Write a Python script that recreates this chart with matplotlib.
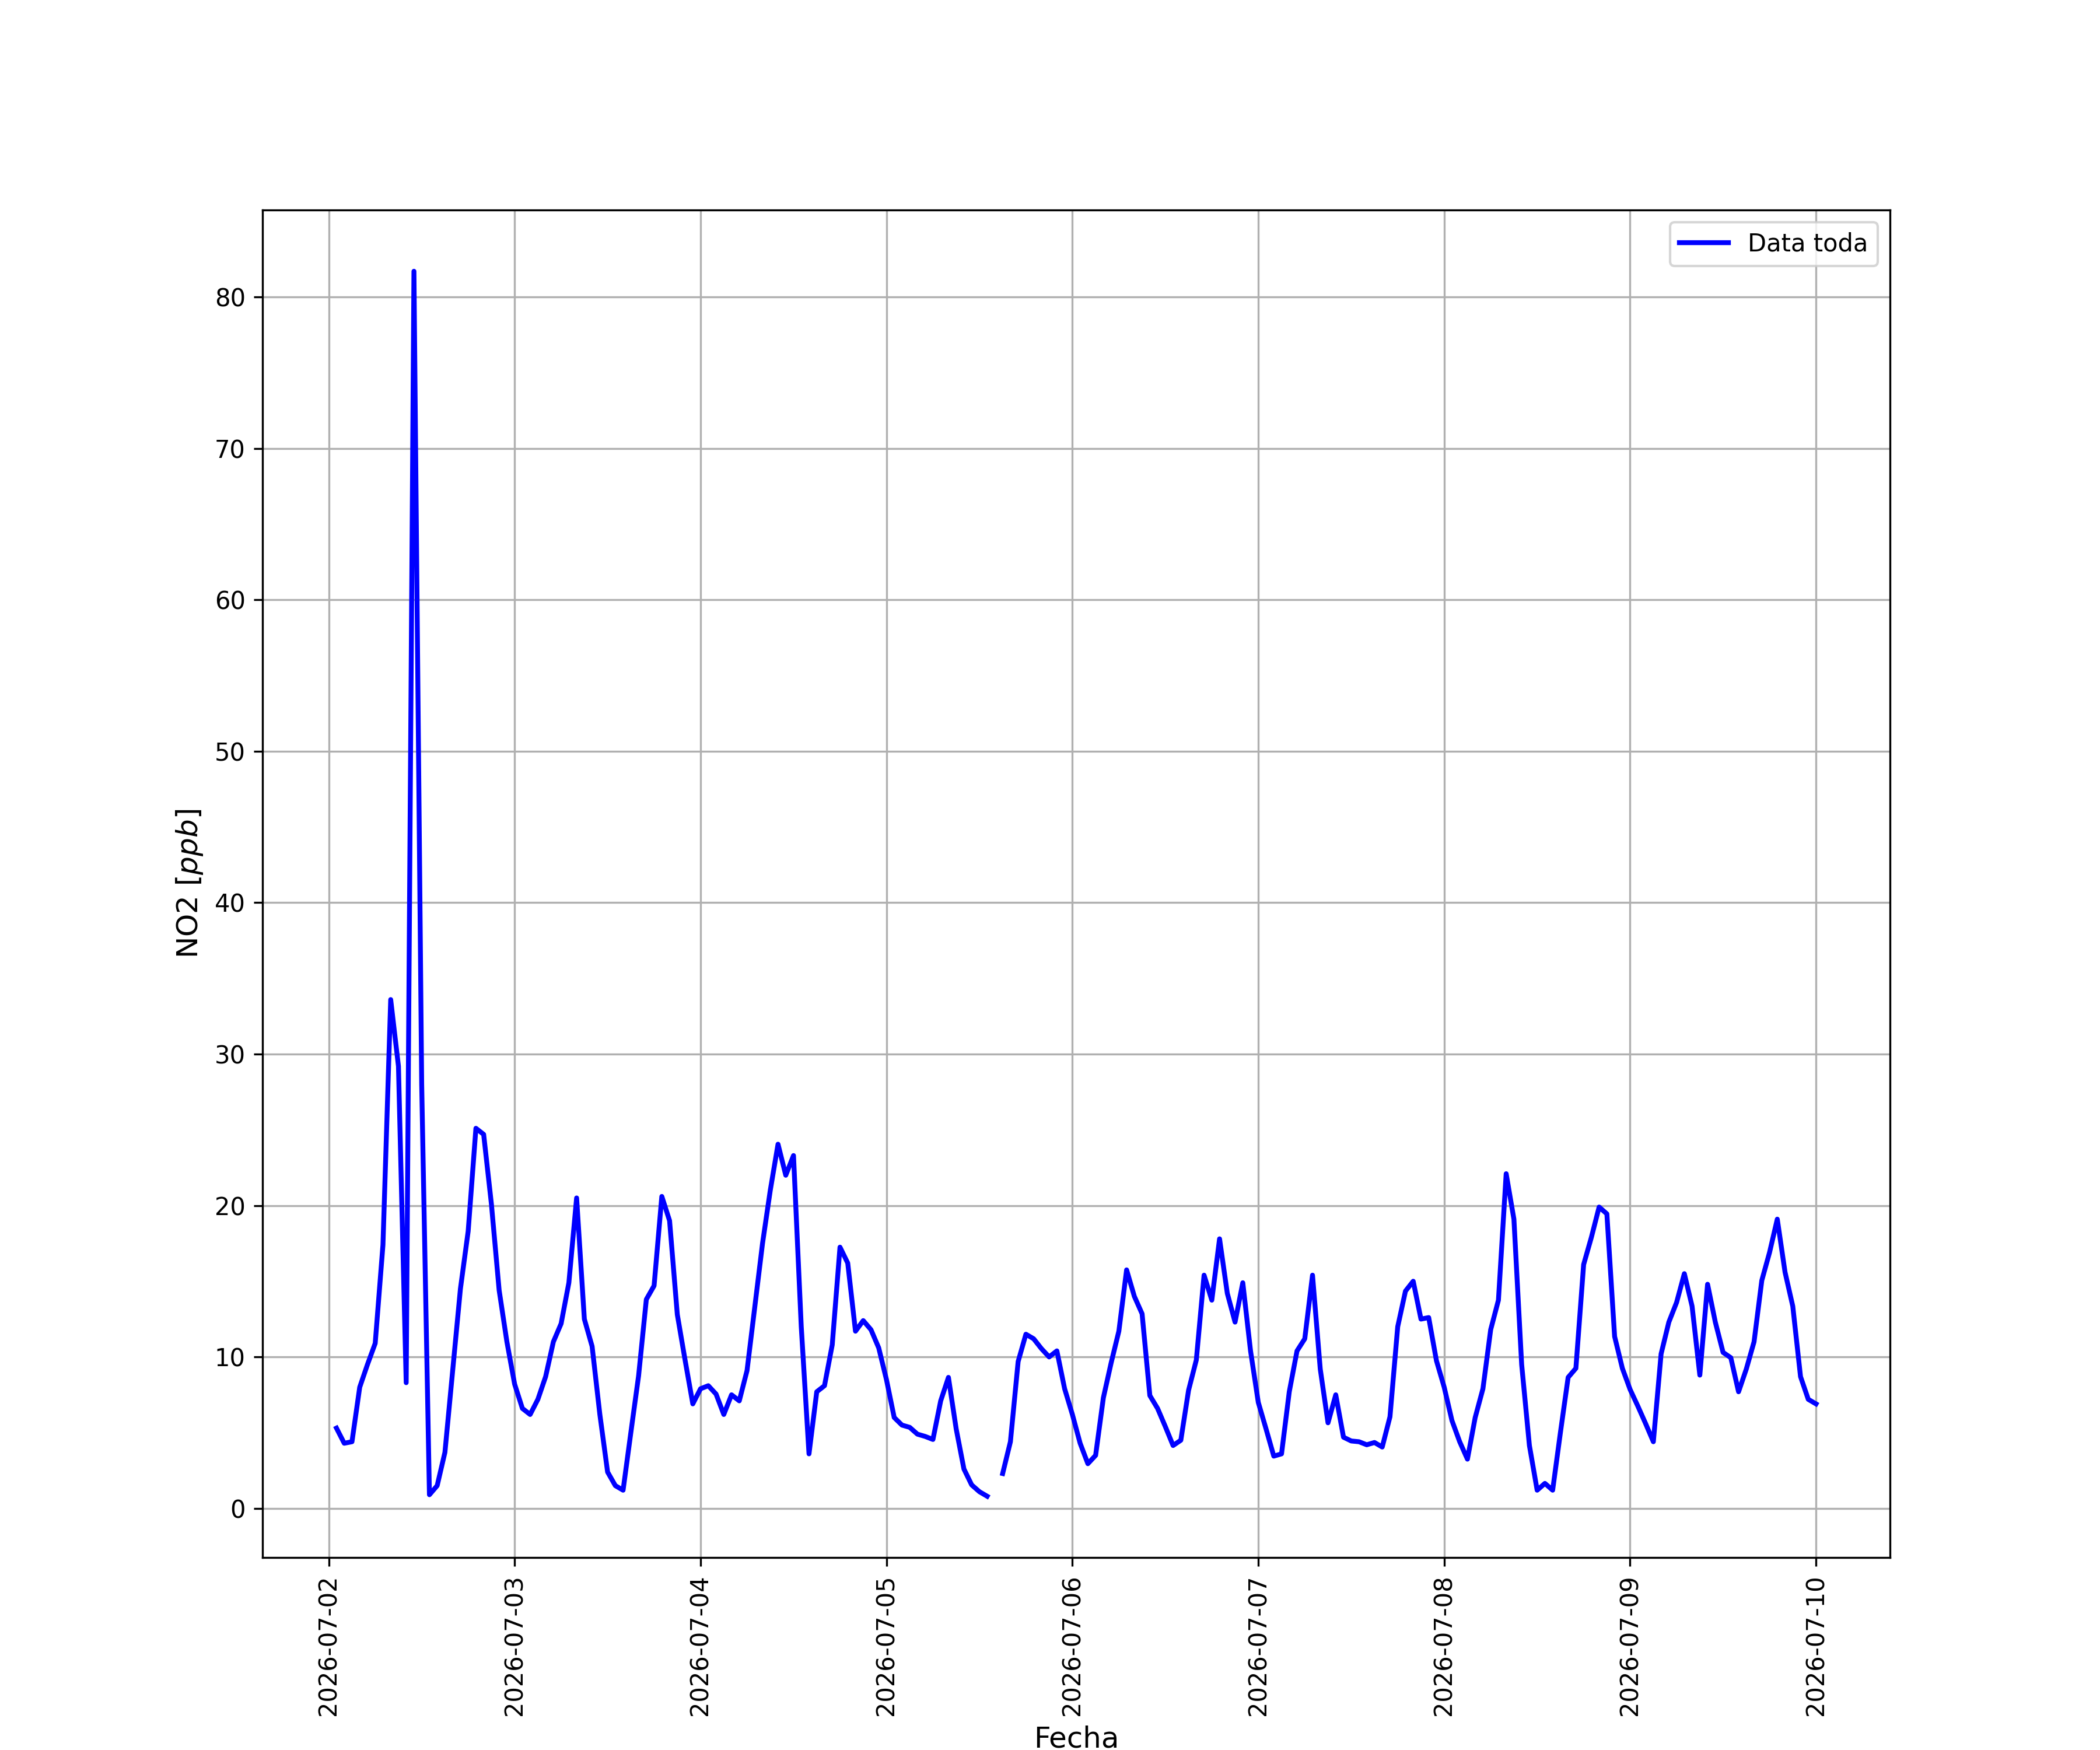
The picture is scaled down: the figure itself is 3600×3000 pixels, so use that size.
import numpy as np
import pandas as pd
import matplotlib
matplotlib.use("Agg")
import matplotlib.pyplot as plt
import matplotlib.dates as mdates

# hourly NO2 readings [ppb], first reading at 2026-07-02 01:00
start = "2026-07-02 01:00"
no2_jul02 = [5.3, 4.3, 4.4, 8.0, 9.5, 10.9, 17.4, 33.6, 29.2, 8.3, 81.7, 28.0,
             0.9, 1.5, 3.7, 9.1, 14.5, 18.3, 25.1, 24.7, 20.1, 14.4, 11.0, 8.2]
no2_jul03 = [6.6, 6.2, 7.2, 8.7, 11.0, 12.2, 14.9, 20.5, 12.5, 10.7, 6.2, 2.4,
             1.5, 1.2, 5.0, 8.75, 13.8, 14.7, 20.6, 19.0, 12.8, 9.8, 6.9, 7.9]
no2_jul04 = [8.1, 7.55, 6.2, 7.5, 7.1, 9.1, 13.3, 17.5, 21.0, 24.05, 22.0, 23.3,
             12.0, 3.6, 7.7, 8.1, 10.8, 17.25, 16.2, 11.7, 12.4, 11.8, 10.6, 8.5]
no2_jul05 = [6.0, 5.5, 5.35, 4.9, 4.75, 4.55, 7.1, 8.65, 5.25, 2.6, 1.55, 1.1,
             0.8, np.nan, 2.3, 4.4, 9.7, 11.5, 11.2, 10.55, 10.0, 10.4, 7.9, 6.2]
no2_jul06 = [4.3, 2.95, 3.5, 7.3, 9.6, 11.7, 15.75, 14.0, 12.85, 7.45, 6.6, 5.4,
             4.15, 4.5, 7.8, 9.8, 15.4, 13.75, 17.8, 14.2, 12.3, 14.9, 10.4, 7.0]
no2_jul07 = [5.25, 3.45, 3.6, 7.7, 10.4, 11.2, 15.4, 9.2, 5.65, 7.5, 4.7, 4.45,
             4.4, 4.2, 4.35, 4.05, 6.05, 12.0, 14.35, 15.0, 12.5, 12.6, 9.75, 8.0]
no2_jul08 = [5.8, 4.4, 3.25, 6.0, 7.9, 11.8, 13.75, 22.1, 19.1, 9.5, 4.15, 1.2,
             1.65, 1.2, 5.0, 8.65, 9.25, 16.1, 17.9, 19.9, 19.45, 11.35, 9.25, 7.85]
no2_jul09 = [6.75, 5.6, 4.4, 10.2, 12.3, 13.6, 15.5, 13.35, 8.8, 14.8, 12.3, 10.3,
             9.95, 7.7, 9.2, 11.0, 15.05, 16.9, 19.1, 15.6, 13.35, 8.7, 7.2, 6.9]

no2 = (no2_jul02 + no2_jul03 + no2_jul04 + no2_jul05 +
       no2_jul06 + no2_jul07 + no2_jul08 + no2_jul09)
fechas = pd.date_range(start, periods=len(no2), freq="h")

fig, ax = plt.subplots(figsize=(12, 10), dpi=300)

ax.plot(fechas, no2, color="b", linewidth=2, label="Data toda")

ax.xaxis.set_major_locator(mdates.DayLocator())
ax.xaxis.set_major_formatter(mdates.DateFormatter("%Y-%m-%d"))
plt.setp(ax.get_xticklabels(), rotation=90)

ax.set_xlabel("Fecha", fontsize=12)
ax.set_ylabel("NO2 [$ppb$]", fontsize=12)
ax.grid(True)
ax.legend(loc="upper right")

fig.savefig("out.png", dpi=300)
